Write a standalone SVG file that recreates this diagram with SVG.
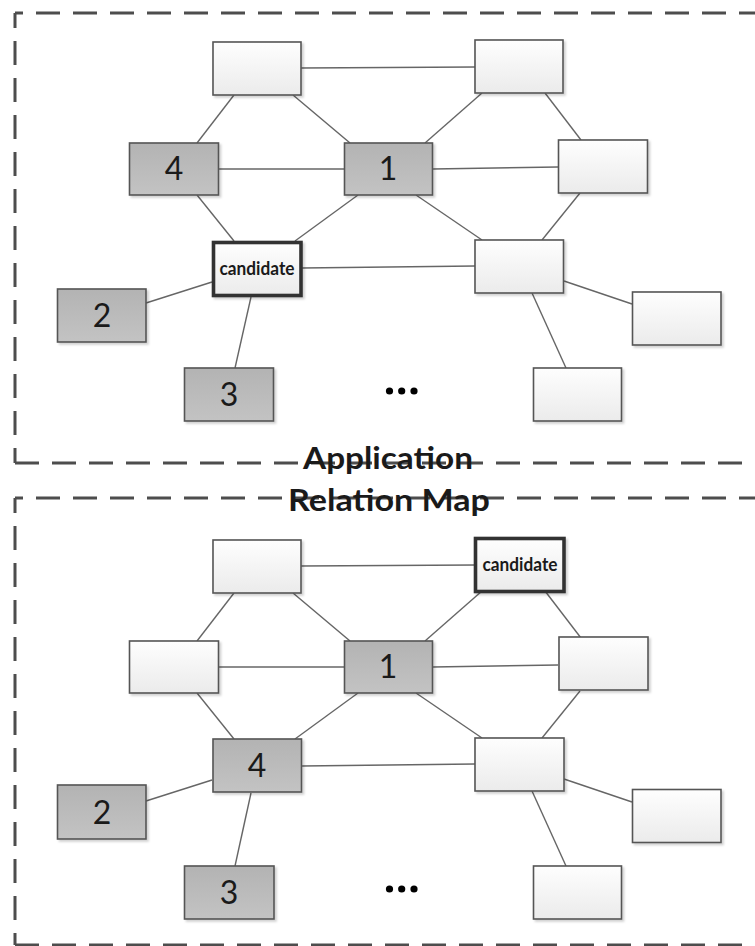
<svg xmlns="http://www.w3.org/2000/svg" width="755" height="946" viewBox="0 0 755 946">
  <defs>
    <linearGradient id="gWhite" x1="0" y1="0" x2="0" y2="1">
      <stop offset="0" stop-color="#fefefe"/>
      <stop offset="1" stop-color="#ebebeb"/>
    </linearGradient>
    <linearGradient id="gGray" x1="0" y1="0" x2="0" y2="1">
      <stop offset="0" stop-color="#b3b3b3"/>
      <stop offset="1" stop-color="#c3c3c3"/>
    </linearGradient>
    <filter id="shadow" x="-10%" y="-10%" width="125%" height="130%">
      <feDropShadow dx="2" dy="2" stdDeviation="1" flood-color="#000" flood-opacity="0.18"/>
    </filter>
  </defs>
  <style>
    .frame { fill: none; stroke: #4d4d4d; stroke-width: 3; stroke-dasharray: 24 13; }
    .edge { stroke: #666; stroke-width: 1.4; fill: none; }
    .white { fill: url(#gWhite); stroke: #555; stroke-width: 1.6; filter: url(#shadow); }
    .gray { fill: url(#gGray); stroke: #555; stroke-width: 1.6; filter: url(#shadow); }
    .cand { fill: url(#gWhite); stroke: #333; stroke-width: 3.6; filter: url(#shadow); }
    .num { font-family: Lato, "Liberation Sans", sans-serif; font-size: 32px; fill: #1a1a1a; text-anchor: middle; }
    .clabel { font-family: Lato, "Liberation Sans", sans-serif; font-size: 18px; font-weight: bold; fill: #1a1a1a; text-anchor: middle; }
    .title { font-family: Lato, "Liberation Sans", sans-serif; font-size: 30px; font-weight: bold; fill: #1a1a1a; text-anchor: middle; }
    .dot { fill: #000; }
  </style>

  <rect width="755" height="946" fill="#fff"/>

  <!-- dashed panel frames (they run off the right edge) -->
  <g id="frames">
    <line class="frame" x1="15" y1="13" x2="780" y2="13" stroke-dashoffset="16"/>
    <line class="frame" x1="15" y1="13" x2="15" y2="463" stroke-dashoffset="9"/>
    <line class="frame" x1="15" y1="463" x2="780" y2="463" stroke-dashoffset="0"/>
    <line class="frame" x1="15" y1="498" x2="780" y2="498" stroke-dashoffset="16"/>
    <line class="frame" x1="15" y1="498" x2="15" y2="945" stroke-dashoffset="9"/>
    <line class="frame" x1="15" y1="945" x2="780" y2="945" stroke-dashoffset="0"/>
  </g>

  <!-- upper map -->
  <g id="map-upper">
    <g id="connectors-upper">
      <line class="edge" x1="301" y1="68" x2="475" y2="67"/>
      <line class="edge" x1="234" y1="95" x2="197" y2="143"/>
      <line class="edge" x1="293" y1="95" x2="350" y2="143"/>
      <line class="edge" x1="219" y1="169" x2="345" y2="169"/>
      <line class="edge" x1="197" y1="195" x2="234" y2="241"/>
      <line class="edge" x1="358" y1="195" x2="295" y2="241"/>
      <line class="edge" x1="482" y1="93" x2="425" y2="143"/>
      <line class="edge" x1="545" y1="93" x2="581" y2="140"/>
      <line class="edge" x1="433" y1="169" x2="558" y2="167"/>
      <line class="edge" x1="416" y1="195" x2="482" y2="240"/>
      <line class="edge" x1="580" y1="193" x2="542" y2="240"/>
      <line class="edge" x1="302" y1="268" x2="475" y2="266"/>
      <line class="edge" x1="212" y1="282" x2="146" y2="303"/>
      <line class="edge" x1="251" y1="297" x2="235" y2="368"/>
      <line class="edge" x1="564" y1="281" x2="632" y2="304"/>
      <line class="edge" x1="532" y1="293" x2="566" y2="368"/>
    </g>
    <g id="u-a"><rect class="white" x="213" y="42" width="88" height="53"/></g>
    <g id="u-b"><rect class="white" x="475" y="40" width="88" height="53"/></g>
    <g id="u-n4"><rect class="gray" x="129.5" y="143" width="89" height="52"/><text class="num" x="174" y="180">4</text></g>
    <g id="u-n1"><rect class="gray" x="344.5" y="143" width="88" height="52"/><text class="num" x="388" y="180">1</text></g>
    <g id="u-c"><rect class="white" x="558.5" y="140" width="89" height="53"/></g>
    <g id="u-cand"><rect class="cand" x="213.5" y="242.5" width="87.5" height="53"/><text class="clabel" x="257" y="274.5" textLength="75" lengthAdjust="spacingAndGlyphs">candidate</text></g>
    <g id="u-d"><rect class="white" x="475" y="240" width="88.5" height="53"/></g>
    <g id="u-n2"><rect class="gray" x="57.5" y="289" width="88.5" height="53"/><text class="num" x="102" y="327">2</text></g>
    <g id="u-e"><rect class="white" x="632.5" y="292" width="88.5" height="53"/></g>
    <g id="u-n3"><rect class="gray" x="184.5" y="368" width="89" height="53"/><text class="num" x="229" y="406">3</text></g>
    <g id="u-f"><rect class="white" x="533.5" y="368" width="88" height="53"/></g>
    <g id="u-more">
      <circle class="dot" cx="389.5" cy="391" r="3.6"/>
      <circle class="dot" cx="401.7" cy="391" r="3.6"/>
      <circle class="dot" cx="414" cy="391" r="3.6"/>
    </g>
  </g>

  <!-- lower map -->
  <g id="map-lower" transform="translate(0,498)">
    <g id="connectors-lower">
      <line class="edge" x1="301" y1="68" x2="475" y2="67"/>
      <line class="edge" x1="234" y1="95" x2="197" y2="143"/>
      <line class="edge" x1="293" y1="95" x2="350" y2="143"/>
      <line class="edge" x1="219" y1="169" x2="345" y2="169"/>
      <line class="edge" x1="197" y1="195" x2="234" y2="241"/>
      <line class="edge" x1="358" y1="195" x2="295" y2="241"/>
      <line class="edge" x1="482" y1="93" x2="425" y2="143"/>
      <line class="edge" x1="545" y1="93" x2="581" y2="140"/>
      <line class="edge" x1="433" y1="169" x2="558" y2="167"/>
      <line class="edge" x1="416" y1="195" x2="482" y2="240"/>
      <line class="edge" x1="580" y1="193" x2="542" y2="240"/>
      <line class="edge" x1="302" y1="268" x2="475" y2="266"/>
      <line class="edge" x1="212" y1="282" x2="146" y2="303"/>
      <line class="edge" x1="251" y1="295" x2="235" y2="368"/>
      <line class="edge" x1="564" y1="281" x2="632" y2="304"/>
      <line class="edge" x1="532" y1="293" x2="566" y2="368"/>
    </g>
    <g id="l-a"><rect class="white" x="213" y="42" width="88" height="53"/></g>
    <g id="l-cand"><rect class="cand" x="475.5" y="40.5" width="88.5" height="53"/><text class="clabel" x="520" y="72.5" textLength="75" lengthAdjust="spacingAndGlyphs">candidate</text></g>
    <g id="l-b"><rect class="white" x="129.5" y="143" width="89" height="52"/></g>
    <g id="l-n1"><rect class="gray" x="344.5" y="143" width="88" height="52"/><text class="num" x="388" y="180">1</text></g>
    <g id="l-c"><rect class="white" x="559" y="139" width="89" height="53"/></g>
    <g id="l-n4"><rect class="gray" x="213" y="241" width="88.5" height="53"/><text class="num" x="257" y="279">4</text></g>
    <g id="l-d"><rect class="white" x="475" y="240" width="89" height="53"/></g>
    <g id="l-n2"><rect class="gray" x="57.5" y="287" width="88.5" height="54"/><text class="num" x="102" y="326">2</text></g>
    <g id="l-e"><rect class="white" x="632.5" y="291.5" width="88.5" height="53"/></g>
    <g id="l-n3"><rect class="gray" x="184.5" y="368" width="89.5" height="53"/><text class="num" x="229" y="406">3</text></g>
    <g id="l-f"><rect class="white" x="533.5" y="368" width="88" height="53"/></g>
    <g id="l-more">
      <circle class="dot" cx="389.5" cy="391" r="3.6"/>
      <circle class="dot" cx="401.7" cy="391" r="3.6"/>
      <circle class="dot" cx="414" cy="391" r="3.6"/>
    </g>
  </g>

  <!-- caption drawn over the frame lines -->
  <g id="caption">
    <text class="title" x="388" y="469" textLength="170" lengthAdjust="spacingAndGlyphs">Application</text>
    <text class="title" x="389" y="511" textLength="202" lengthAdjust="spacingAndGlyphs">Relation Map</text>
  </g>
</svg>
